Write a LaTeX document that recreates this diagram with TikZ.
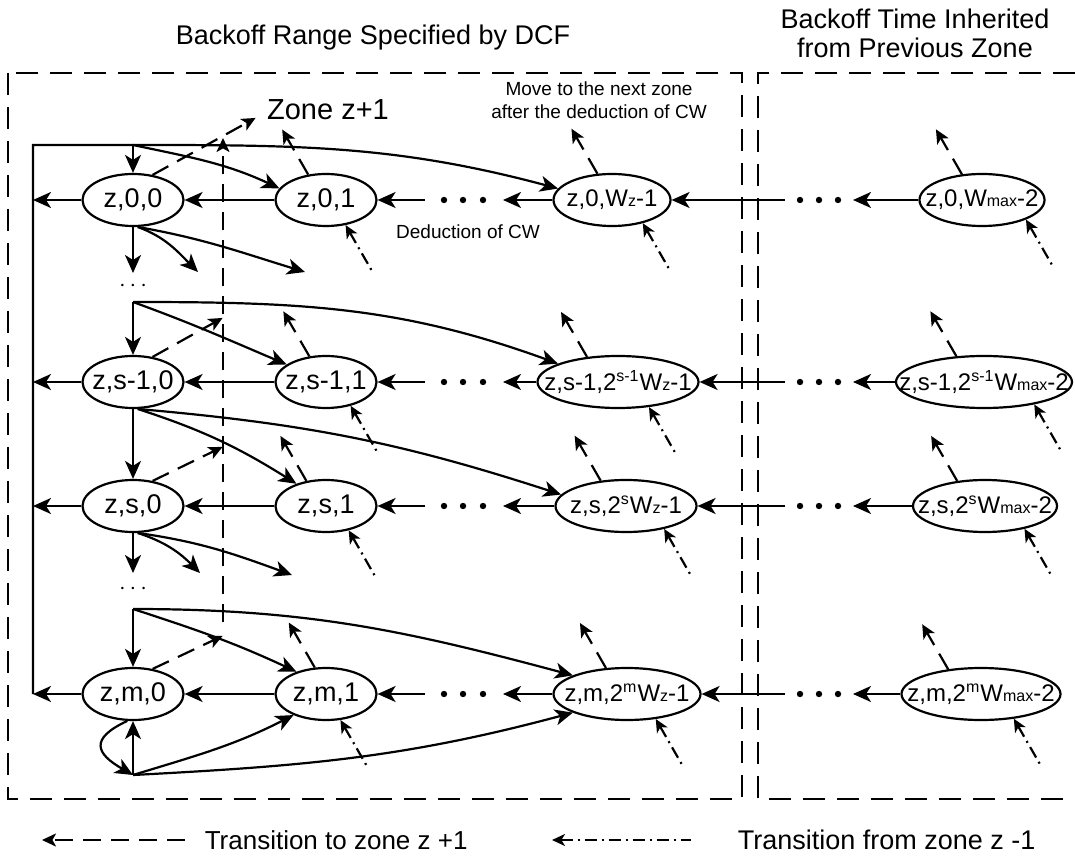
\documentclass[tikz,border=0pt]{standalone}
\usepackage{fontspec}
\setmainfont{Liberation Sans}
\usetikzlibrary{arrows.meta,shapes.geometric}
\newcommand{\fsize}[2]{\fontsize{#1}{#2}\selectfont}
\newcommand{\sml}[1]{{\fsize{8}{8}#1}}
\newcommand{\inell}[1]{\makebox[0pt]{#1}}
\begin{document}
\begin{tikzpicture}[x=0.5pt, y=0.5pt, line width=1.1pt,
  >={Stealth[length=9pt,width=8pt,inset=2.5pt]},
  state/.style={ellipse, draw, inner sep=0pt, minimum height=26pt, minimum width=#1*0.5pt, font=\fsize{13.5}{14}},
  wide/.style={font=\fsize{12}{13}},
  zoneout/.style={-{Stealth[length=7pt,width=6.5pt,inset=1.8pt]}, dash pattern=on 9pt off 5pt},
  zonein/.style={{Stealth[length=6.5pt,width=6pt,inset=1.8pt]}-, dash pattern=on 6pt off 2.5pt on 1pt off 2.5pt},
  box/.style={line width=1.2pt, dash pattern=on 11pt off 6pt}]
\useasboundingbox (0,0) rectangle (1075,-860);

\node[font=\fsize{13.5}{14.5}] (ttl) at (373,-38) {Backoff Range Specified by DCF};
\node[font=\fsize{13.5}{14.5}, align=center] (ttr) at (915,-33) {Backoff Time Inherited\\from Previous Zone};
\draw[box] (8,-73) rectangle (742,-799);
\draw[box] (1075,-73) -- (758,-73) -- (758,-799) -- (1075,-799);

\node[state=101] (n00) at (133,-200) {\inell{z,0,0}};
\node[state=101] (n01) at (326,-200) {\inell{z,0,1}};
\node[state=117, wide] (n02) at (612,-200) {\inell{z,0,W\sml{z}-1}};
\node[state=125, wide] (n03) at (982,-200) {\inell{z,0,W\sml{max}-2}};
\node[state=101] (np0) at (133,-382) {\inell{z,s-1,0}};
\node[state=101] (np1) at (326,-382) {\inell{z,s-1,1}};
\node[state=161, wide] (np2) at (618,-382) {\inell{z,s-1,2\textsuperscript{s-1}W\sml{z}-1}};
\node[state=176, wide] (np3) at (984,-382) {\inell{z,s-1,2\textsuperscript{s-1}W\sml{max}-2}};
\node[state=101] (ns0) at (133,-506) {\inell{z,s,0}};
\node[state=101] (ns1) at (326,-506) {\inell{z,s,1}};
\node[state=141, wide] (ns2) at (626,-506) {\inell{z,s,2\textsuperscript{s}W\sml{z}-1}};
\node[state=144, wide] (ns3) at (985,-506) {\inell{z,s,2\textsuperscript{s}W\sml{max}-2}};
\node[state=101] (nm0) at (133,-694) {\inell{z,m,0}};
\node[state=101] (nm1) at (326,-694) {\inell{z,m,1}};
\node[state=147, wide] (nm2) at (627,-694) {\inell{z,m,2\textsuperscript{m}W\sml{z}-1}};
\node[state=159, wide] (nm3) at (981,-694) {\inell{z,m,2\textsuperscript{m}W\sml{max}-2}};

\node[font=\fsize{14.5}{15}] (zlab) at (328,-110) {Zone z+1};
\node[font=\fsize{9.5}{11}] (ded) at (468,-232) {Deduction of CW};
\node[font=\fsize{9.5}{11.5}, align=center] (mv) at (599,-100) {Move to the next zone\\after the deduction of CW};
\node[font=\fsize{13}{13}] (dt1) at (133,-286) {$\cdots$};
\node[font=\fsize{13}{13}] (dt2) at (133,-589) {$\cdots$};

\coordinate (lft) at (33,0);
\coordinate (gl) at (425,0);
\coordinate (dl) at (503,0);
\coordinate (gr) at (785,0);
\coordinate (dr) at (853,0);
\coordinate (j0) at (133,-145);
\coordinate (jp) at (133,-302);
\coordinate (jm) at (133,-609);
\coordinate (jb) at (133,-775);
\coordinate (t0a) at (133,-273);
\coordinate (t0b) at (198,-272);
\coordinate (t0c) at (305,-272);
\coordinate (tsa) at (133,-573);
\coordinate (tsb) at (200,-573);
\coordinate (tsc) at (292,-575);
\coordinate (vb) at (223,-622);
\coordinate (vt) at (223,-138);

\foreach \rw in {0,p,s,m}
{
\draw[->] (n\rw1) -- (n\rw0);
\draw[->] (n\rw0.west) -- (n\rw0.west -| lft);
\draw[->] (n\rw2.west) -- (n\rw2.west -| dl);
\draw[->] (n\rw2.west -| gl) -- (n\rw1.east);
\draw[->] (n\rw3.west) -- (n\rw3.west -| dr);
\draw[->] (n\rw3.west -| gr) -- (n\rw2.east);
\foreach \dx in {444,463,483,800,819,838}
\fill (\dx,0 |- n\rw2) circle (3.2);
}

\draw[->] (nm0.west -| lft) -- (lft |- j0) -- (j0) to[out=0, in=165] (n02.168);
\draw[->] (j0) -- (n00);
\draw[->] (j0) to[out=-12, in=155] (n01.166);
\draw[->] (n00) -- (t0a);
\draw[->] (n00.-80) to[out=-20, in=135] (t0b);
\draw[->] (n00.-80) to[out=-10, in=163] (t0c);

\draw[->] (jp) -- (np0);
\draw[->] (jp) to[out=-20, in=157] (np1.156);
\draw[->] (jp) to[out=0, in=160] (np2.163);
\draw[->] (np0) -- (ns0);
\draw[->] (np0.-80) to[out=-18, in=148] (ns1.143);
\draw[->] (np0.-80) to[out=-5, in=162] (ns2.170);
\draw[->] (ns0) -- (tsa);
\draw[->] (ns0.-80) to[out=-18, in=135] (tsb);
\draw[->] (ns0.-80) to[out=-8, in=160] (tsc);

\draw[->] (jm) -- (nm0);
\draw[->] (jm) to[out=-18, in=155] (nm1.143);
\draw[->] (jm) to[out=0, in=165] (nm2.161);
\draw[->] (jb) -- (nm0);
\draw[->] (nm0.258) to[out=205, in=150, looseness=2] (jb);
\draw[->] (jb) to[out=17, in=207] (nm1.213);
\draw[->] (jb) to[out=3, in=195] (nm2.199);

\draw[zoneout] (vb) -- (vt);
\draw[zoneout] (n00.52) -- +(103,57);
\foreach \nd/\dy in {np0/39, ns0/34, nm0/33}
\draw[zoneout] (\nd.52) -- +(70,\dy);
\foreach \nd/\ao/\ai in {n01/125/308, np1/123/316, ns1/128/313, nm1/113/299, n02/119/323, np2/141/321, ns2/135/329, nm2/129/319, n03/128/336, np3/137/336, ns3/138/330, nm3/143/323}
{
\draw[zoneout] (\nd.\ao) -- +(-26,45);
\draw[zonein] (\nd.\ai) -- +(27,-47);
}

\coordinate (la) at (185,-840);
\coordinate (lb) at (42,-840);
\coordinate (ra) at (691,-840);
\coordinate (rb) at (552,-840);
\draw[zoneout] (la) -- (lb);
\node[font=\fsize{13}{13}, anchor=west] (lt1) at (197,-840) {Transition to zone z +1};
\draw[zonein] (rb) -- (ra);
\node[font=\fsize{13.5}{13.5}, anchor=west] (lt2) at (730,-840) {Transition from zone z -1};
\end{tikzpicture}
\end{document}
